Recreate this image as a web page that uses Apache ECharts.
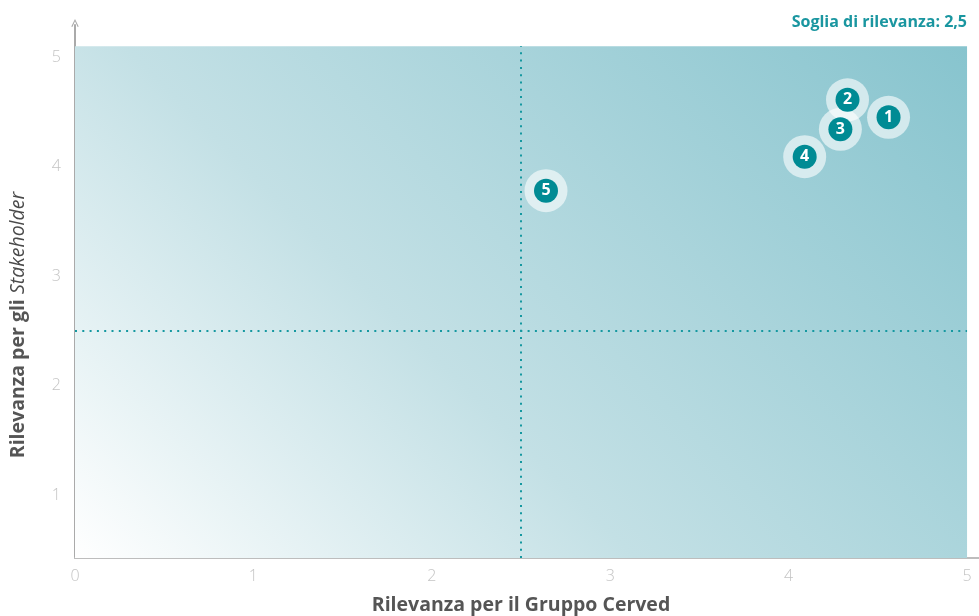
<!DOCTYPE html>
<html>
<head>
<meta charset="utf-8">
<script src="https://cdn.jsdelivr.net/npm/echarts@6/dist/echarts.min.js"></script>
<style>
html,body{margin:0;padding:0;background:#fff;}
#chart{width:979px;height:616px;}
</style>
</head>
<body>
<div id="chart"></div>
<script>
// ---- data ----
var pointIds = ['1', '2', '3', '4', '5'];
var xValues = [4.56, 4.33, 4.29, 4.09, 2.64];
var yValues = [4.45, 4.61, 4.34, 4.09, 3.78];
var threshold = 2.5;
var tickLabels = [0, 1, 2, 3, 4, 5];
var titleText = 'Soglia di rilevanza: 2,5';
var xTitle = 'Rilevanza per il Gruppo Cerved';
var yTitleBold = 'Rilevanza per gli ';
var yTitleItalic = 'Stakeholder';

// ---- layout ----
var W = 979, H = 616;
var gridLeft = 75, gridRight = 0, gridTop = 25, gridBottom = 58;
var xMin = 0, xMax = 5.067, yMin = 0.425, yMax = 5.293;
var areaX1 = 5, areaY1 = 5.1;

var plotW = (W - gridLeft - gridRight) * (areaX1 - xMin) / (xMax - xMin);
var plotH = (H - gridTop - gridBottom) * (areaY1 - yMin) / (yMax - yMin);
var gx2 = (plotW + plotH) / (2 * plotW);
var gy2 = 1 - (plotW + plotH) / (2 * plotH);

var pts = pointIds.map(function (id, i) { return [xValues[i], yValues[i], id]; });

var chart = echarts.init(document.getElementById('chart'), null, {renderer: 'canvas'});
var FONT = 'Open Sans';

chart.setOption({
  animation: false,
  textStyle: {fontFamily: FONT},
  title: {
    text: titleText,
    right: 7,
    top: 9,
    textStyle: {fontFamily: FONT, fontSize: 16, fontWeight: 'bold', color: '#1a96a0'}
  },
  grid: {left: gridLeft, right: gridRight, top: gridTop, bottom: gridBottom, containLabel: false},
  xAxis: {
    type: 'value', min: xMin, max: xMax,
    splitLine: {show: false},
    axisTick: {show: false},
    axisLine: {show: true, onZero: false, lineStyle: {color: '#bdbdbd', width: 2}},
    axisLabel: {
      customValues: tickLabels,
      color: '#c4c4c4', fontSize: 16, fontWeight: 300, margin: 10, fontFamily: FONT,
      formatter: function (v) { return String(v); }
    }
  },
  yAxis: {
    type: 'value', min: yMin, max: yMax,
    splitLine: {show: false},
    axisTick: {show: false},
    axisLine: {
      show: true, onZero: false,
      lineStyle: {color: '#aaaaaa', width: 2},
      symbol: ['none', 'path://M0,10 L5,0 L10,10 L8.6,10.8 L5,3.2 L1.4,10.8 Z'],
      symbolSize: [9, 8], symbolOffset: [0, 2]
    },
    axisLabel: {
      customValues: tickLabels.slice(1),
      color: '#c4c4c4', fontSize: 16, fontWeight: 300, margin: 14, fontFamily: FONT,
      formatter: function (v) { return String(v); }
    }
  },
  graphic: [
    {
      type: 'text', x: 521, y: 605, z: 10,
      style: {
        text: xTitle, fill: '#555555',
        fontFamily: FONT, fontSize: 19.5, fontWeight: 'bold',
        align: 'center', verticalAlign: 'middle'
      }
    },
    {
      type: 'text', x: 18, y: 325, rotation: Math.PI / 2, z: 10,
      style: {
        text: '{b|' + yTitleBold + '}{i|' + yTitleItalic + '}',
        align: 'center', verticalAlign: 'middle',
        rich: {
          b: {fontFamily: FONT, fontSize: 19.5, fontWeight: 'bold', fill: '#555555'},
          i: {fontFamily: FONT, fontSize: 19.5, fontStyle: 'italic', fontWeight: 'normal', fill: '#4a4a4a'}
        }
      }
    }
  ],
  series: [
    {
      type: 'scatter',
      name: 'bg',
      data: [],
      silent: true,
      markArea: {
        silent: true,
        itemStyle: {
          color: {
            type: 'linear', x: 0, y: 1, x2: gx2, y2: gy2,
            colorStops: [
              {offset: 0, color: '#ffffff'},
              {offset: 0.4, color: '#c3e0e5'},
              {offset: 1, color: '#87c4ce'}
            ]
          }
        },
        data: [[{coord: [xMin, yMin]}, {coord: [areaX1, areaY1]}]]
      },
      markLine: {
        silent: true,
        symbol: ['none', 'none'],
        label: {show: false},
        lineStyle: {color: '#1598a0', type: [2, 5.3], width: 2, cap: 'butt'},
        data: [
          [{coord: [threshold, yMin]}, {coord: [threshold, areaY1]}],
          [{coord: [xMin, threshold]}, {coord: [areaX1, threshold]}]
        ]
      }
    },
    {
      type: 'scatter',
      name: 'halo',
      data: pts,
      symbolSize: 43,
      z: 3,
      silent: true,
      itemStyle: {color: 'rgba(255,255,255,0.6)', opacity: 1}
    },
    {
      type: 'scatter',
      name: 'points',
      data: pts,
      symbolSize: 24,
      z: 4,
      itemStyle: {color: '#008b94', opacity: 1},
      label: {
        show: true, position: 'inside',
        formatter: function (p) { return p.data[2]; },
        color: '#ffffff', fontSize: 16, fontWeight: 'bold', fontFamily: FONT
      }
    }
  ]
});
</script>
</body>
</html>
